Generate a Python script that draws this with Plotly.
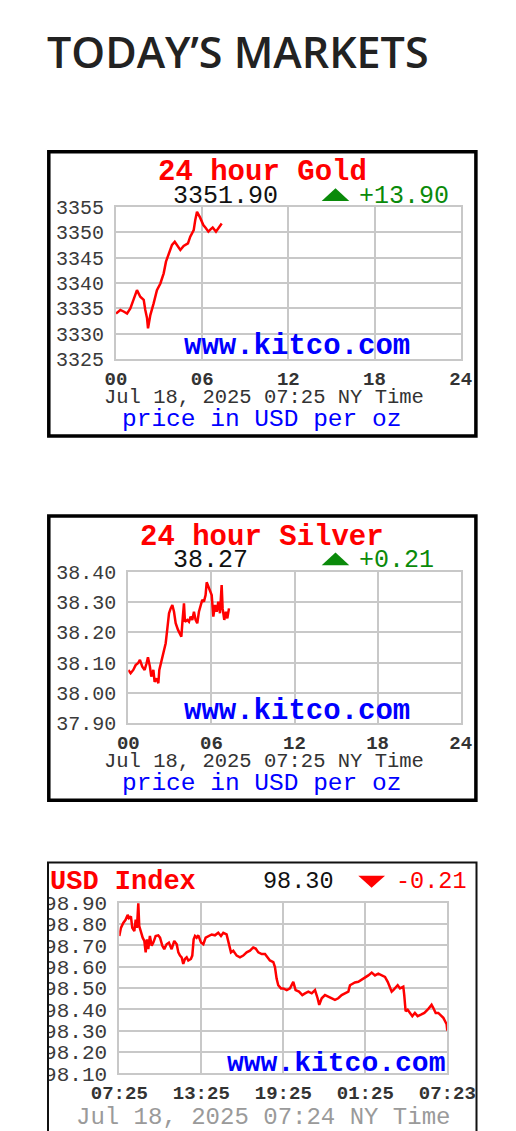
import plotly.graph_objects as go

# page body has an 8px margin, so the figure covers screen pixels 8..516 x 8..1131
OX, OY = 8, 8
W, H = 516 - OX, 1131 - OY

# ---------------- data ----------------
gold_hours = [0.00, 0.30, 0.53, 0.77, 1.00, 1.23, 1.46, 1.69, 1.93, 2.04, 2.16, 2.23, 2.39, 2.62,
              2.85, 3.09, 3.32, 3.48, 3.67, 3.90, 4.09, 4.25, 4.48, 4.71, 5.01, 5.17, 5.41, 5.52,
              5.64, 5.85, 6.08, 6.25, 6.43, 6.60, 6.73, 6.96, 7.13, 7.36]
gold_prices = [3334.0, 3334.7, 3334.4, 3334.0, 3335.0, 3336.7, 3338.6, 3337.3, 3336.7, 3334.7,
               3333.1, 3331.1, 3333.7, 3336.0, 3338.6, 3339.9, 3341.9, 3344.2, 3345.8, 3347.5,
               3348.1, 3347.5, 3346.5, 3347.3, 3347.8, 3349.1, 3350.4, 3352.4, 3354.0, 3352.9,
               3351.4, 3350.8, 3350.1, 3350.6, 3350.9, 3350.1, 3350.9, 3351.7]

silver_hours = [0.00, 0.17, 0.36, 0.53, 0.70, 0.84, 1.01, 1.18, 1.32, 1.42, 1.56, 1.66, 1.81, 1.90,
                2.05, 2.17, 2.24, 2.38, 2.53, 2.70, 2.82, 2.94, 3.06, 3.18, 3.30, 3.42, 3.59, 3.73,
                3.83, 3.92, 4.02, 4.09, 4.26, 4.38, 4.50, 4.62, 4.74, 4.86, 4.98, 5.10, 5.22, 5.34,
                5.46, 5.58, 5.66, 5.78, 5.90, 6.02, 6.14, 6.26, 6.38, 6.50, 6.62, 6.74, 6.81, 6.93,
                7.05, 7.15, 7.27]
silver_prices = [38.076, 38.065, 38.076, 38.092, 38.098, 38.109, 38.087, 38.076, 38.098, 38.118,
                 38.087, 38.054, 38.076, 38.037, 38.048, 38.032, 38.076, 38.103, 38.125, 38.164,
                 38.213, 38.263, 38.279, 38.290, 38.268, 38.230, 38.208, 38.197, 38.186, 38.241,
                 38.296, 38.235, 38.241, 38.235, 38.252, 38.241, 38.268, 38.241, 38.230, 38.268,
                 38.285, 38.307, 38.301, 38.323, 38.365, 38.351, 38.334, 38.323, 38.252, 38.290,
                 38.268, 38.301, 38.263, 38.356, 38.279, 38.241, 38.268, 38.246, 38.279]

usd_hours = [0.00, 0.12, 0.29, 0.46, 0.61, 0.71, 0.85, 0.95, 1.10, 1.20, 1.29, 1.39, 1.46, 1.59,
             1.71, 1.83, 1.93, 2.02, 2.12, 2.24, 2.37, 2.49, 2.66, 2.85, 2.98, 3.15, 3.29, 3.46,
             3.63, 3.83, 4.02, 4.20, 4.32, 4.44, 4.56, 4.68, 4.80, 4.93, 5.05, 5.24, 5.34, 5.44,
             5.54, 5.66, 5.78, 5.98, 6.15, 6.32, 6.51, 6.76, 7.00, 7.24, 7.44, 7.61, 7.85, 8.02,
             8.17, 8.34, 8.59, 8.83, 9.07, 9.32, 9.56, 9.80, 9.98, 10.17, 10.42, 10.66, 10.85,
             11.02, 11.27, 11.39, 11.51, 11.63, 11.83, 12.00, 12.25, 12.49, 12.73, 12.90, 13.15,
             13.39, 13.59, 13.83, 14.08, 14.32, 14.51, 14.63, 14.81, 15.05, 15.29, 15.54, 15.78,
             16.02, 16.27, 16.51, 16.76, 16.88, 17.05, 17.24, 17.49, 17.68, 17.85, 18.02, 18.22,
             18.47, 18.71, 18.95, 19.20, 19.44, 19.64, 19.80, 19.93, 20.05, 20.17, 20.37, 20.54,
             20.78, 20.85, 20.95, 21.10, 21.27, 21.44, 21.63, 21.83, 22.07, 22.32, 22.56, 22.73,
             22.85, 22.98, 23.15, 23.34, 23.54, 23.71, 23.83, 23.95, 24.00]
usd_values = [98.744, 98.782, 98.805, 98.820, 98.843, 98.828, 98.836, 98.782, 98.767, 98.820,
              98.782, 98.897, 98.790, 98.759, 98.736, 98.721, 98.667, 98.728, 98.682, 98.744,
              98.698, 98.713, 98.744, 98.747, 98.736, 98.698, 98.682, 98.705, 98.713, 98.682,
              98.721, 98.705, 98.667, 98.652, 98.644, 98.613, 98.636, 98.644, 98.629, 98.636,
              98.652, 98.728, 98.744, 98.736, 98.747, 98.713, 98.705, 98.736, 98.744, 98.751,
              98.747, 98.759, 98.744, 98.759, 98.751, 98.698, 98.667, 98.675, 98.652, 98.644,
              98.652, 98.667, 98.675, 98.690, 98.685, 98.667, 98.659, 98.659, 98.644, 98.629,
              98.621, 98.598, 98.544, 98.513, 98.498, 98.498, 98.490, 98.498, 98.529, 98.490,
              98.483, 98.467, 98.475, 98.483, 98.475, 98.490, 98.452, 98.421, 98.452, 98.467,
              98.460, 98.452, 98.444, 98.452, 98.467, 98.475, 98.483, 98.513, 98.521, 98.526,
              98.529, 98.536, 98.544, 98.552, 98.559, 98.572, 98.559, 98.567, 98.559, 98.552,
              98.529, 98.498, 98.483, 98.490, 98.498, 98.513, 98.498, 98.506, 98.467, 98.391,
              98.398, 98.383, 98.368, 98.383, 98.368, 98.375, 98.383, 98.398, 98.414, 98.421,
              98.406, 98.383, 98.383, 98.368, 98.360, 98.345, 98.330, 98.300]

hour_ticks = [0, 6, 12, 18, 24]
hour_labels = ["00", "06", "12", "18", "24"]
usd_tick_labels = ["07:25", "13:25", "19:25", "01:25", "07:23"]
gold_yticks = [3325, 3330, 3335, 3340, 3345, 3350, 3355]
silver_yticks = [37.90, 38.00, 38.10, 38.20, 38.30, 38.40]
usd_yticks = [98.10, 98.20, 98.30, 98.40, 98.50, 98.60, 98.70, 98.80, 98.90]

gold_last, gold_change = "3351.90", "+13.90"
silver_last, silver_change = "38.27", "+0.21"
usd_last, usd_change = "98.30", "-0.21"

# ---------------- helpers (screen px -> paper) ----------------
def fx(px):
    return (px - OX) / W

def fy(py):
    return 1 - (py - OY) / H

MONO = "Liberation Mono"
GRID = "#c8c8c8"

fig = go.Figure()

panels = [
    dict(x=gold_hours, y=gold_prices, box=(116, 460.7, 206.7, 359.3), yr=[3325, 3355],
         yt=gold_yticks, fmt="{:.0f}", xl=hour_labels, ys=20),
    dict(x=silver_hours, y=silver_prices, box=(128.3, 460.7, 571.7, 723.3), yr=[37.90, 38.40],
         yt=silver_yticks, fmt="{:.2f}", xl=hour_labels, ys=20),
    dict(x=usd_hours, y=usd_values, box=(119.3, 447.3, 902.7, 1073.3), yr=[98.10, 98.90],
         yt=usd_yticks, fmt="{:.2f}", xl=usd_tick_labels, ys=21),
]

layout = {}
for i, p in enumerate(panels, start=1):
    sfx = "" if i == 1 else str(i)
    fig.add_trace(go.Scatter(x=p["x"], y=p["y"], mode="lines",
                             line=dict(color="#ff0000", width=2.5),
                             xaxis="x" + sfx, yaxis="y" + sfx, showlegend=False,
                             hoverinfo="skip"))
    l, r, t, b = p["box"]
    layout["xaxis" + sfx] = dict(
        domain=[fx(l), fx(r)], range=[0, 24], anchor="y" + sfx, automargin=False,
        tickvals=hour_ticks, ticktext=p["xl"], showgrid=True, gridcolor=GRID, gridwidth=2,
        showline=True, linecolor=GRID, linewidth=2, mirror=True, zeroline=False,
        ticks="", ticklabelstandoff=1,
        tickfont=dict(family=MONO, size=19, color="#333333", weight="bold"), fixedrange=True)
    layout["yaxis" + sfx] = dict(
        domain=[fy(b), fy(t)], range=p["yr"], anchor="x" + sfx, automargin=False,
        tickvals=p["yt"], ticktext=[p["fmt"].format(v) for v in p["yt"]],
        showgrid=True, gridcolor=GRID, gridwidth=2,
        showline=True, linecolor=GRID, linewidth=2, mirror=True, zeroline=False,
        ticks="", ticklabelstandoff=6,
        tickfont=dict(family=MONO, size=p["ys"], color="#3a3a3a"), fixedrange=True)

fig.update_layout(**layout)

shapes = []
annotations = []

def text(x, y, s, size, color, bold=False, family=MONO, xanchor="left"):
    annotations.append(dict(
        x=fx(x), y=fy(y), xref="paper", yref="paper", text=s, showarrow=False,
        xanchor=xanchor, yanchor="middle",
        font=dict(family=family, size=size, color=color, weight="bold" if bold else "normal")))

# Heading
text(45, 51, "TODAY’S MARKETS", 43, "#222222", family="Open Sans")
annotations[-1]["font"]["weight"] = 600

# Gold & silver panels (thick black frame)
for dy, title in [(0, "24 hour Gold"), (364.3, "24 hour Silver")]:
    shapes.append(dict(type="rect", xref="paper", yref="paper",
                       x0=fx(48.8), x1=fx(475.9), y0=fy(151.8 + dy), y1=fy(435.9 + dy),
                       line=dict(color="#000000", width=3.5), fillcolor="rgba(0,0,0,0)",
                       layer="below"))
    text(262, 173 + dy, title, 29, "#ff0000", bold=True, xanchor="center")
    # green up-triangle
    shapes.append(dict(type="path", xref="paper", yref="paper",
                       path="M {} {} L {} {} L {} {} Z".format(
                           fx(321.7), fy(201 + dy), fx(349.3), fy(201 + dy),
                           fx(335.5), fy(188.3 + dy)),
                       fillcolor="#0a8a0a", line=dict(width=0), layer="above"))
    text(261, 419 + dy, "price in USD per oz", 24.5, "#0000ff", xanchor="center")
    text(264, 397.5 + dy, "Jul 18, 2025 07:25 NY Time", 20.5, "#333333", xanchor="center")
    text(297, 347 + dy, "www.kitco.com", 29, "#0000ff", bold=True, xanchor="center")

text(171, 196, gold_last, 25, "#111111")
text(356.5, 196, gold_change, 25, "#0a8a0a")
text(171, 560.3, silver_last, 25, "#111111")
text(356.5, 560.3, silver_change, 25, "#0a8a0a")

# USD panel: thin frame, clip left of labels with white cover
shapes.append(dict(type="rect", xref="paper", yref="paper",
                   x0=fx(0), x1=fx(47), y0=fy(1140), y1=fy(860),
                   line=dict(width=0), fillcolor="#ffffff", layer="above"))
shapes.append(dict(type="rect", xref="paper", yref="paper",
                   x0=fx(48), x1=fx(476.5), y0=fy(1160), y1=fy(862.5),
                   line=dict(color="#111111", width=2), fillcolor="rgba(0,0,0,0)",
                   layer="above"))
text(47.5, 882, "USD Index", 27, "#ff0000", bold=True)
text(261, 881.5, usd_last, 23.5, "#111111")
shapes.append(dict(type="path", xref="paper", yref="paper",
                   path="M {} {} L {} {} L {} {} Z".format(
                       fx(358.3), fy(875.7), fx(385), fy(875.7), fx(371.6), fy(887.7)),
                   fillcolor="#ff0000", line=dict(width=0), layer="above"))
text(393.5, 881.5, usd_change, 23.5, "#ff0000")
text(336, 1063, "www.kitco.com", 28, "#0000ff", bold=True, xanchor="center")
text(262.5, 1117, "Jul 18, 2025 07:24 NY Time", 24, "#9a9a9a", xanchor="center")

fig.update_layout(
    width=W, height=H, autosize=False,
    margin=dict(l=0, r=0, t=0, b=0, pad=0, autoexpand=False),
    paper_bgcolor="#ffffff", plot_bgcolor="#ffffff",
    shapes=shapes, annotations=annotations, showlegend=False,
)

fig.write_html("out.html", config={"displayModeBar": False, "staticPlot": True})
